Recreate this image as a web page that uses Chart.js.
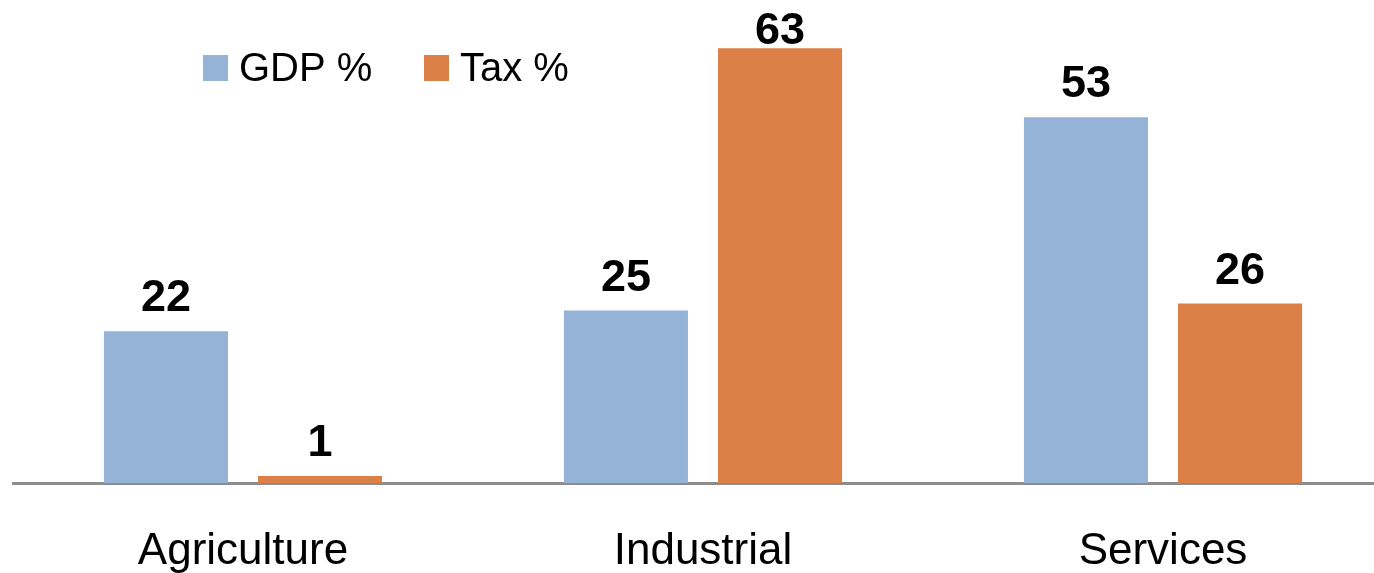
<!DOCTYPE html>
<html>
<head>
<meta charset="utf-8">
<script src="https://cdn.jsdelivr.net/npm/chart.js@4/dist/chart.umd.min.js"></script>
<style>
html,body{margin:0;padding:0;background:#fff;overflow:hidden;}
#wrap{width:1394px;height:573px;position:relative;}
</style>
</head>
<body>
<div id="wrap"><canvas id="c" width="1394" height="573"></canvas></div>
<script>
const categories = ['Agriculture', 'Industrial', 'Services'];
const gdpValues = [22, 25, 53];
const taxValues = [1, 63, 26];
const seriesNames = ['GDP %', 'Tax %'];
const colors = ['#95B3D7', '#DD8047'];
const FONT = '"Liberation Sans", Arial, sans-serif';

const valueLabels = {
  id: 'valueLabels',
  afterDatasetsDraw(chart) {
    const ctx = chart.ctx;
    ctx.save();
    ctx.font = 'bold 45px ' + FONT;
    ctx.fillStyle = '#000';
    ctx.textAlign = 'center';
    ctx.textBaseline = 'alphabetic';
    chart.data.datasets.forEach((ds, i) => {
      chart.getDatasetMeta(i).data.forEach((bar, j) => {
        const yb = Math.max(bar.y - 20, 44);
        ctx.fillText(String(ds.data[j]), bar.x, yb);
      });
    });
    ctx.restore();
  }
};

const customLegend = {
  id: 'customLegend',
  afterDraw(chart) {
    const ctx = chart.ctx;
    ctx.save();
    ctx.font = '40px ' + FONT;
    ctx.textBaseline = 'alphabetic';
    ctx.textAlign = 'left';
    let x = 203;
    const y = 68;
    chart.data.datasets.forEach((ds) => {
      ctx.fillStyle = ds.backgroundColor;
      ctx.fillRect(x, y - 13, 25, 26);
      ctx.fillStyle = '#000';
      ctx.fillText(ds.label, x + 36, 81);
      x += 221;
    });
    ctx.restore();
  }
};

new Chart(document.getElementById('c'), {
  type: 'bar',
  data: {
    labels: categories,
    datasets: [
      { label: seriesNames[0], data: gdpValues, backgroundColor: colors[0] },
      { label: seriesNames[1], data: taxValues, backgroundColor: colors[1] }
    ]
  },
  options: {
    responsive: false,
    animation: false,
    devicePixelRatio: 1,
    layout: { padding: { left: 13, right: 1, top: 0, bottom: 0 } },
    datasets: { bar: { categoryPercentage: 0.67, barPercentage: 0.805 } },
    plugins: { legend: { display: false }, tooltip: { enabled: false } },
    scales: {
      y: { display: false, min: 0, max: 70 },
      x: {
        grid: { display: false, drawTicks: false },
        border: { display: true, color: '#8C8C8C', width: 3 },
        ticks: { color: '#000', font: { family: FONT, size: 44 }, padding: 42 },
        afterFit(scale) { scale.height = 90; }
      }
    }
  },
  plugins: [valueLabels, customLegend]
});
</script>
</body>
</html>
